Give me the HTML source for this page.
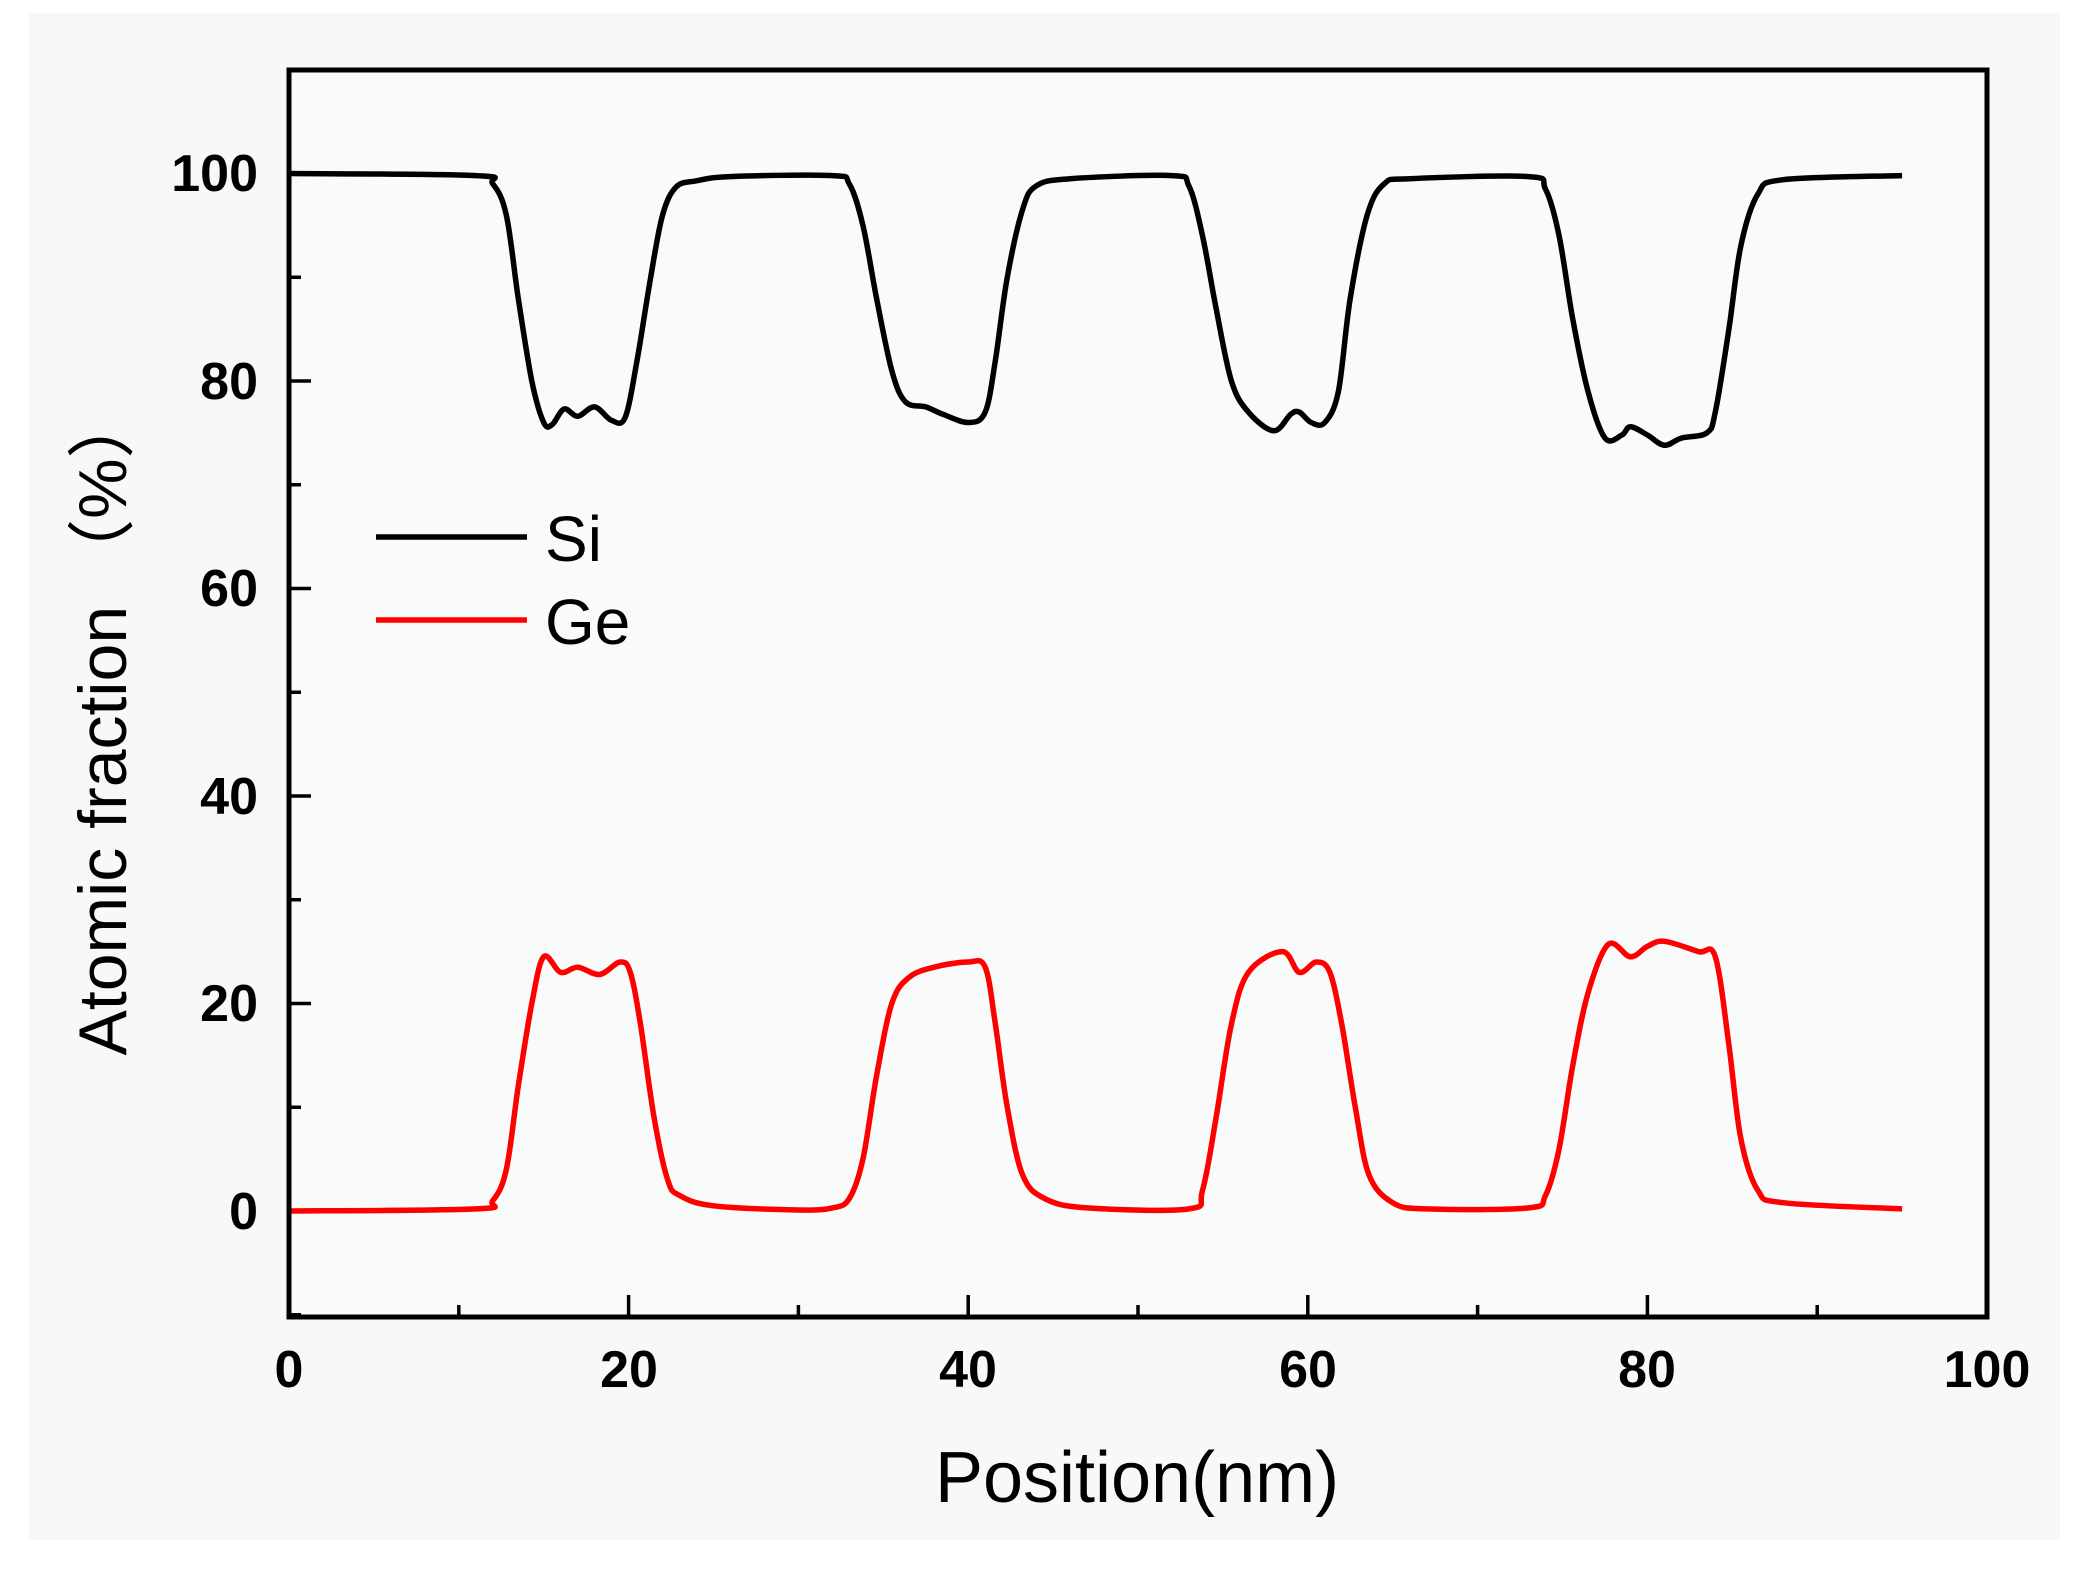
<!DOCTYPE html>
<html><head><meta charset="utf-8"><style>
html,body{margin:0;padding:0;background:#fff;}
svg{display:block;}
</style></head><body>
<svg id="s" width="2091" height="1575" viewBox="0 0 2091 1575" xmlns="http://www.w3.org/2000/svg" font-family="Liberation Sans, Noto Sans CJK SC, sans-serif">
<rect x="29" y="13" width="2031" height="1527" fill="#f7f8f8"/>
<rect x="289" y="70" width="1698" height="1247" fill="#f9fafa"/>
<g id="ticks" stroke="#000" stroke-width="3.5"></g>
<path id="si" fill="none" stroke="#000" stroke-width="5.5" stroke-linejoin="round"/>
<path id="ge" fill="none" stroke="#ff0000" stroke-width="5.5" stroke-linejoin="round"/>
<rect x="289" y="70" width="1698" height="1247" fill="none" stroke="#000" stroke-width="5"/>
<g font-weight="bold" font-size="52" text-anchor="end">
<text x="258" y="191">100</text>
<text x="258" y="399">80</text>
<text x="258" y="606">60</text>
<text x="258" y="814">40</text>
<text x="258" y="1021">20</text>
<text x="258" y="1229">0</text>
</g>
<g font-weight="bold" font-size="52" text-anchor="middle">
<text x="289" y="1387">0</text>
<text x="629" y="1387">20</text>
<text x="968" y="1387">40</text>
<text x="1308" y="1387">60</text>
<text x="1647" y="1387">80</text>
<text x="1987" y="1387">100</text>
</g>
<text x="1137" y="1502" font-size="72" text-anchor="middle">Position(nm)</text>
<text transform="translate(126,723) rotate(-90)" font-size="68" text-anchor="middle">Atomic fraction （%）</text>
<line x1="376" y1="537" x2="527" y2="537" stroke="#000" stroke-width="5.5"/>
<line x1="376" y1="620" x2="527" y2="620" stroke="#ff0000" stroke-width="5.5"/>
<text x="545" y="561" font-size="64">Si</text>
<text x="545" y="644" font-size="64">Ge</text>
</svg>
<script>
var X=function(v){return 289+v*16.98;}, Y=function(v){return 1211-v*10.375;};
var t=document.getElementById('ticks'),h='';
for(var i=0;i<=100;i+=10){var L=(i%20==0)?22:12;h+='<line x1="'+X(i)+'" y1="1317" x2="'+X(i)+'" y2="'+(1317-L)+'"/>';}
for(var j=-10;j<=110;j+=10){var L2=(j%20==0)?22:12;h+='<line x1="289" y1="'+Y(j)+'" x2="'+(289+L2)+'" y2="'+Y(j)+'"/>';}
t.innerHTML=h;
var si=[[0,100],[11,99.8],[12,99],[12.8,96],[13.5,88],[14.3,80],[15,76],[15.5,75.8],[16.2,77.3],[17,76.6],[18,77.5],[19,76.2],[19.8,76.5],[20.5,82],[21.3,90],[22,96],[22.8,98.7],[24,99.3],[26,99.7],[32,99.8],[33,99],[33.8,95],[34.6,88],[35.5,81],[36.3,78],[37.5,77.5],[38.5,76.8],[40,76],[41,77],[41.6,82],[42.3,90],[43.2,96.5],[44,98.8],[46,99.5],[52,99.8],[53,98.8],[53.8,94],[54.6,87],[55.5,80],[56.5,77],[58,75.2],[59,76.8],[59.5,77],[60.2,76],[61,76],[61.8,79],[62.5,88],[63.5,96],[64.5,99],[66,99.5],[73,99.7],[74,98.5],[74.8,94],[75.6,86],[76.5,79],[77.5,74.5],[78.5,74.8],[79,75.6],[80,74.8],[81,73.8],[82,74.5],[83.5,75],[84,77],[84.8,85],[85.5,93],[86.5,98],[88,99.4],[95,99.8]];
var ge=[[0,0],[11,0.2],[12,1],[12.8,4],[13.5,12],[14.3,20],[15,24.5],[16,23],[17,23.5],[18.3,22.8],[19.5,24],[20.1,23],[20.7,18],[21.5,9],[22.3,3],[23,1.5],[25,0.5],[30,0.1],[32,0.3],[33,1.2],[33.8,5],[34.6,13],[35.5,20],[36.5,22.5],[38,23.5],[40,24],[41,23.5],[41.6,18],[42.3,10],[43.2,3.5],[44.5,1.2],[47,0.3],[53,0.2],[53.8,2],[54.6,9],[55.5,18],[56.5,23],[58.5,25],[59.5,23],[60.5,24],[61.3,23],[62,18],[62.8,10],[63.6,3.5],[65,0.8],[67,0.2],[73,0.3],[74,1.5],[74.8,6],[75.6,14],[76.5,21],[77.7,25.7],[79,24.5],[80,25.5],[81,26],[83,25],[84,24.5],[84.8,16],[85.5,7],[86.5,2],[88,0.8],[95,0.2]];
function path(p){var d='M'+X(p[0][0])+' '+Y(p[0][1]);
for(var i=0;i<p.length-1;i++){var p0=p[Math.max(0,i-1)],p1=p[i],p2=p[i+1],p3=p[Math.min(p.length-1,i+2)];
var c1x=X(p1[0])+(X(p2[0])-X(p0[0]))/6,c1y=Y(p1[1])+(Y(p2[1])-Y(p0[1]))/6,c2x=X(p2[0])-(X(p3[0])-X(p1[0]))/6,c2y=Y(p2[1])-(Y(p3[1])-Y(p1[1]))/6;
d+=' C'+c1x.toFixed(1)+' '+c1y.toFixed(1)+' '+c2x.toFixed(1)+' '+c2y.toFixed(1)+' '+X(p2[0]).toFixed(1)+' '+Y(p2[1]).toFixed(1);}
return d;}
document.getElementById('si').setAttribute('d',path(si));
document.getElementById('ge').setAttribute('d',path(ge));
</script>
</body></html>
